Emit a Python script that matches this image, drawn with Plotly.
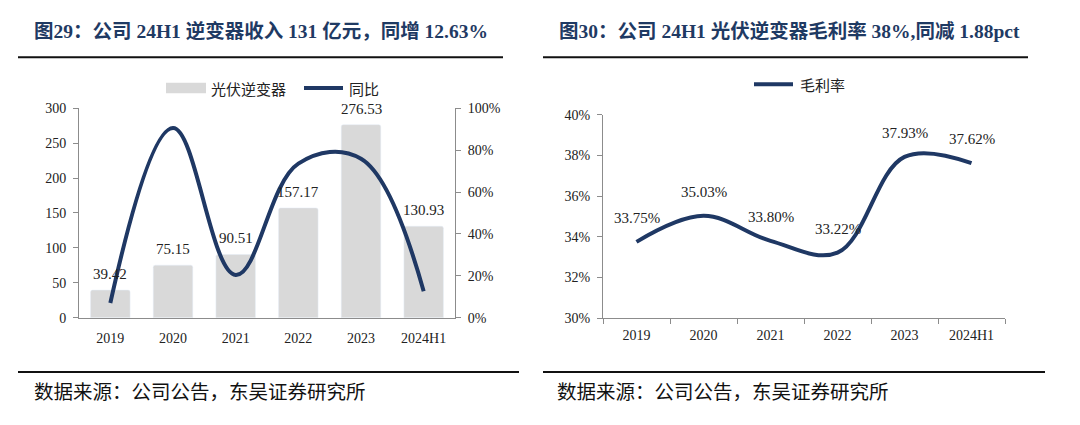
import plotly.graph_objects as go

# ---------------- data ----------------
years = ["2019", "2020", "2021", "2022", "2023", "2024H1"]
revenue = [39.42, 75.15, 90.51, 157.17, 276.53, 130.93]          # 亿元
yoy = [0.07, 0.906, 0.204, 0.736, 0.759, 0.1263]                   # 同比
gross_margin = [0.3375, 0.3503, 0.3380, 0.3322, 0.3793, 0.3762]    # 毛利率

rev_labels = ["39.42", "75.15", "90.51", "157.17", "276.53", "130.93"]
gm_labels = ["33.75%", "35.03%", "33.80%", "33.22%", "37.93%", "37.62%"]

title_left = "图29：公司 24H1 逆变器收入 131 亿元，同增 12.63%"
title_right = "图30：公司 24H1 光伏逆变器毛利率 38%,同减 1.88pct"
source_text = "数据来源：公司公告，东吴证券研究所"
legend_bar = "光伏逆变器"
legend_yoy = "同比"
legend_gm = "毛利率"

# ---------------- styles ----------------
W, H = 1080, 425
NAVY = "#1F3864"
TITLE_C = "#1F3A63"
BAR_C = "#D9D9D9"
AXIS_C = "#8C8C8C"
TXT_C = "#222222"
NUM_FONT = "Liberation Serif"
CJK_FONT = "Noto Sans CJK SC"
MIX_FONT = "Liberation Serif, Noto Sans CJK SC"


def px(x):
    return x / W


def py(y):
    return 1 - y / H


fig = go.Figure()

fig.add_trace(go.Bar(
    x=years, y=revenue, marker=dict(color=BAR_C, cornerradius=2),
    width=0.63, xaxis="x", yaxis="y", showlegend=False,
))
fig.add_trace(go.Scatter(
    x=years, y=yoy, mode="lines",
    line=dict(color=NAVY, width=4, shape="spline", smoothing=1.1),
    xaxis="x", yaxis="y2", showlegend=False,
))
fig.add_trace(go.Scatter(
    x=years, y=gross_margin, mode="lines",
    line=dict(color=NAVY, width=4, shape="spline", smoothing=1.05),
    xaxis="x2", yaxis="y3", showlegend=False,
))

tickfont = dict(family=NUM_FONT, size=14, color=TXT_C)

axis_common = dict(showline=True, linecolor=AXIS_C, linewidth=1,
                   showgrid=False, zeroline=False, tickfont=tickfont,
                   fixedrange=True)
cat_range = [-0.5, len(years) - 0.5]

fig.update_layout(
    width=W, height=H, autosize=False,
    margin=dict(l=0, r=0, t=0, b=0),
    paper_bgcolor="white", plot_bgcolor="white",
    xaxis=dict(domain=[px(79), px(455)], anchor="y", type="category",
               categoryorder="array", categoryarray=years, range=cat_range,
               ticks="", ticklabelstandoff=8, **axis_common),
    yaxis=dict(domain=[py(322), py(105)], anchor="x", range=[0, 300],
               dtick=50, ticks="outside", ticklen=5, tickcolor=AXIS_C,
               ticklabelstandoff=4, **axis_common),
    yaxis2=dict(overlaying="y", side="right", anchor="x", range=[0, 1],
                dtick=0.2, tickformat=".0%", ticks="outside", ticklen=5,
                tickcolor=AXIS_C, ticklabelstandoff=4, **axis_common),
    xaxis2=dict(domain=[px(603), px(1005)], anchor="y3", type="category",
                categoryorder="array", categoryarray=years, range=cat_range,
                tickson="boundaries", ticks="outside", ticklen=5,
                tickcolor=AXIS_C, ticklabelstandoff=4, **axis_common),
    yaxis3=dict(domain=[py(322.5), py(111.7)], anchor="x2",
                range=[0.30, 0.40], dtick=0.02, tickformat=".0%",
                ticks="outside", ticklen=5, tickcolor=AXIS_C,
                ticklabelstandoff=4, **axis_common),
)

annotations = []
shapes = []

# titles
for x0, txt in [(32, title_left), (557, title_right)]:
    annotations.append(dict(
        x=px(x0), y=py(25), xref="paper", yref="paper", xanchor="left",
        yanchor="middle", showarrow=False, text="<b>" + txt + "</b>",
        font=dict(family=MIX_FONT, size=19.5, color=TITLE_C)))

# title underlines and bottom rules
for x0, x1, y in [(18, 503, 52), (543, 1028, 52), (18, 519, 378.3), (543, 1045, 378.3)]:
    shapes.append(dict(type="line", xref="paper", yref="paper",
                       x0=px(x0), x1=px(x1), y0=py(y), y1=py(y),
                       line=dict(color="#111111", width=2)))

# source notes
for x0 in (32, 555):
    annotations.append(dict(
        x=px(x0), y=py(398), xref="paper", yref="paper", xanchor="left",
        yanchor="middle", showarrow=False, text=source_text,
        font=dict(family=CJK_FONT, size=19.5, color="#111111")))

# legends (custom)
shapes.append(dict(type="rect", xref="paper", yref="paper",
                   x0=px(166), x1=px(206), y0=py(89.5), y1=py(78.5),
                   fillcolor=BAR_C, line=dict(width=0)))
annotations.append(dict(x=px(209), y=py(84), xref="paper", yref="paper",
                        xanchor="left", yanchor="middle", showarrow=False,
                        text=legend_bar,
                        font=dict(family=CJK_FONT, size=15, color=TXT_C)))
shapes.append(dict(type="line", xref="paper", yref="paper",
                   x0=px(304), x1=px(343), y0=py(84), y1=py(84),
                   line=dict(color=NAVY, width=4)))
annotations.append(dict(x=px(347), y=py(84), xref="paper", yref="paper",
                        xanchor="left", yanchor="middle", showarrow=False,
                        text=legend_yoy,
                        font=dict(family=CJK_FONT, size=15, color=TXT_C)))
shapes.append(dict(type="line", xref="paper", yref="paper",
                   x0=px(754), x1=px(793), y0=py(80), y1=py(80),
                   line=dict(color=NAVY, width=4)))
annotations.append(dict(x=px(798), y=py(80), xref="paper", yref="paper",
                        xanchor="left", yanchor="middle", showarrow=False,
                        text=legend_gm,
                        font=dict(family=CJK_FONT, size=15, color=TXT_C)))

# data labels (category axes take the category index)
for i, (val, lab) in enumerate(zip(revenue, rev_labels)):
    annotations.append(dict(x=i, y=val, xref="x", yref="y", text=lab,
                            showarrow=False, yanchor="middle", yshift=16,
                            font=dict(family=NUM_FONT, size=15, color=TXT_C)))
for i, (val, lab) in enumerate(zip(gross_margin, gm_labels)):
    annotations.append(dict(x=i, y=val, xref="x2", yref="y3", text=lab,
                            showarrow=False, yanchor="middle", yshift=24,
                            font=dict(family=NUM_FONT, size=15, color=TXT_C)))

fig.update_layout(annotations=annotations, shapes=shapes)

fig.write_html("out.html",
               config={"displayModeBar": False, "staticPlot": True},
               post_script="document.body.style.margin='0px';")
